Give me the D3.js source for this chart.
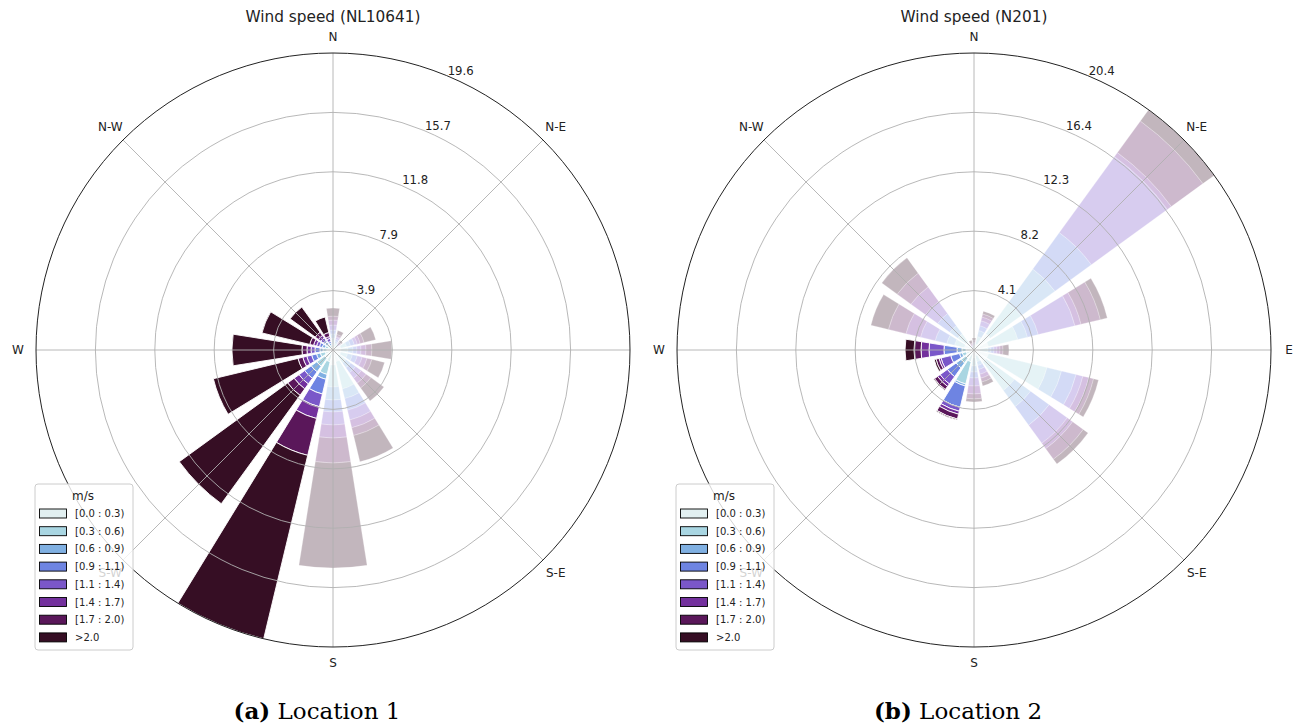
<!DOCTYPE html>
<html><head><meta charset="utf-8">
<script src="https://cdn.jsdelivr.net/npm/d3@7"></script>
<style>body{margin:0;background:#fff;} svg{display:block;}</style>
</head><body>
<svg id="chart" width="1298" height="728"></svg>
<script>
// ---------------- DATA ----------------
const directions = ["N","NNE","NE","ENE","E","ESE","SE","SSE","S","SSW","SW","WSW","W","WNW","NW","NNW"];
const compassLabels = ["N","N-E","E","S-E","S","S-W","W","N-W"];
const speedBins = ["[0.0 : 0.3)","[0.3 : 0.6)","[0.6 : 0.9)","[0.9 : 1.1)","[1.1 : 1.4)","[1.4 : 1.7)","[1.7 : 2.0)",">2.0"];
const legendTitle = "m/s";

// frequency (%) per direction (rows, N clockwise) and speed bin (columns)
const loc1Freq = [
  [0.40,0.39,0.27,0.26,0.33,0.33,0.26,0.53],
  [0.26,0.20,0.13,0.14,0.13,0.06,0.14,0.26],
  [0.20,0.13,0.07,0.06,0.07,0.06,0.07,0.13],
  [0.53,0.39,0.27,0.26,0.20,0.20,0.26,0.79],
  [0.53,0.46,0.33,0.26,0.27,0.33,0.39,1.32],
  [0.53,0.46,0.33,0.33,0.33,0.33,0.33,0.86],
  [0.53,0.53,0.39,0.40,0.46,0.40,0.39,1.06],
  [0.79,1.85,0.66,0.79,0.66,0.53,0.53,1.78],
  [0.99,1.45,0.86,0.79,0.86,0.86,1.65,6.93],
  [0.80,0.86,0.33,1.00,0.86,0.80,2.50,12.45],
  [0.66,0.66,0.46,0.53,0.46,0.40,0.53,8.84],
  [0.53,0.33,0.26,0.33,0.33,0.27,0.33,5.74],
  [0.40,0.26,0.20,0.33,0.26,0.27,0.33,4.62],
  [0.33,0.20,0.20,0.19,0.20,0.20,0.26,3.24],
  [0.26,0.20,0.20,0.13,0.20,0.20,0.26,2.05],
  [0.20,0.13,0.13,0.13,0.20,0.13,0.27,1.05]
];
const loc2Freq = [
  [0.14,0.14,0.06,0.07,0.07,0.07,0.14,0.14],
  [0.41,0.55,0.42,0.34,0.35,0.27,0.21,0.20],
  [1.38,2.61,2.90,3.10,6.47,0.34,2.69,0.96],
  [1.03,2.07,0.69,0.76,2.60,0.43,1.37,0.49],
  [0.41,0.55,0.21,0.21,0.20,0.21,0.21,0.41],
  [1.03,4.14,1.03,1.03,0.48,0.42,0.34,0.35],
  [1.03,2.41,1.38,1.58,1.54,0.46,0.90,0.41],
  [0.41,0.42,0.27,0.28,0.34,0.28,0.27,0.28],
  [0.55,0.55,0.42,0.41,0.55,0.55,0.34,0.21],
  [0.83,1.58,0.14,1.51,0.28,0.21,0.34,0.07],
  [0.69,0.41,0.42,0.75,0.62,0.21,0.27,0.07],
  [0.55,0.28,0.20,0.62,0.69,0.14,0.21,0.13],
  [0.55,0.28,0.34,0.90,1.03,0.55,0.48,0.62],
  [0.69,0.69,0.55,0.82,1.04,1.03,1.24,1.24],
  [0.69,0.69,0.69,1.03,1.03,1.24,1.17,1.31],
  [0.07,0.07,0.07,0.07,0.06,0.07,0.07,0.21]
];
// highlighted (fully opaque) directions
const loc1Highlight = [0,0,0,0,0,0,0,0,0,1,1,1,1,1,1,1];
const loc2Highlight = [0,0,0,0,0,0,0,0,0,1,1,1,1,0,0,0];
const loc1Max = 19.6;
const loc2Max = 20.45;
const loc1RTicks = ["3.9","7.9","11.8","15.7","19.6"];
const loc2RTicks = ["4.1","8.2","12.3","16.4","20.4"];
const titles = ["Wind speed (NL10641)", "Wind speed (N201)"];
const captionTags = ["(a)", "(b)"];
const captionTexts = ["Location 1", "Location 2"];

// ---------------- STYLE ----------------
const binColors = ["#e2f0f1","#a9d6e2","#80b0e2","#6e84e2","#7a57c9","#73309d","#5a175a","#360e24"];
const dimAlpha = 0.3;
const R = 297;
const toRad = Math.PI / 180;
const font = "DejaVu Sans, sans-serif";

const svg = d3.select("#chart");
svg.append("rect").attr("width",1298).attr("height",728).attr("fill","#fff");

function drawRose(cx, cy, freq, highlight, rmax, rticks, title, tag, capText, showE) {
  const g = svg.append("g").attr("transform", `translate(${cx},${cy})`);
  const r = d3.scaleLinear().domain([0, rmax]).range([0, R]);
  const step = 360 / directions.length;
  const half = step * 0.8 / 2;
  const arc = d3.arc();

  // bars
  directions.forEach((d, i) => {
    const alpha = highlight[i] ? 1 : dimAlpha;
    const cum = d3.cumsum(freq[i]);
    freq[i].forEach((v, j) => {
      const inner = j === 0 ? 0 : cum[j-1];
      g.append("path")
        .attr("d", arc({innerRadius: r(inner), outerRadius: r(cum[j]),
                        startAngle: (i*step - half)*toRad, endAngle: (i*step + half)*toRad}))
        .attr("fill", binColors[j]).attr("fill-opacity", alpha)
        .attr("stroke", "#fff").attr("stroke-opacity", alpha).attr("stroke-width", 0.9);
    });
  });

  // grid rings
  const ringVals = d3.range(1, 5).map(k => rmax * k / 5);
  g.selectAll(".ring").data(ringVals).enter().append("circle")
    .attr("r", v => r(v)).attr("fill","none").attr("stroke","#b0b0b0").attr("stroke-width",0.9);
  // radial lines
  compassLabels.forEach((lab, k) => {
    const a = k * 45 * toRad;
    g.append("line").attr("x1",0).attr("y1",0)
      .attr("x2", R*Math.sin(a)).attr("y2", -R*Math.cos(a))
      .attr("stroke","#b0b0b0").attr("stroke-width",0.9);
  });
  // outer circle
  g.append("circle").attr("r", R).attr("fill","none").attr("stroke","#222").attr("stroke-width",1);

  // compass labels
  compassLabels.forEach((lab, k) => {
    if (lab === "E" && !showE) return;
    const a = k * 45 * toRad;
    const off = (k % 2 === 1) ? 18 : (k % 4 === 0 ? 16 : 18);
    g.append("text").text(lab)
      .attr("x", (R+off)*Math.sin(a)).attr("y", -(R+off)*Math.cos(a))
      .attr("text-anchor","middle").attr("dominant-baseline","central")
      .attr("font-family", font).attr("font-size", 12).attr("fill","#222");
  });
  // radial tick labels
  rticks.forEach((t, k) => {
    const rv = r(rmax * (k+1) / 5);
    const a = 22.5 * toRad;
    g.append("text").text(t)
      .attr("x", rv*Math.sin(a) + 1).attr("y", -rv*Math.cos(a) - 1)
      .attr("font-family", font).attr("font-size", 11.7).attr("fill","#222");
  });
  // title
  g.append("text").text(title).attr("x",0).attr("y",-R-36)
    .attr("text-anchor","middle").attr("dominant-baseline","central")
    .attr("font-family", font).attr("font-size", 15.3).attr("fill","#222");

  // legend
  const lg = g.append("g").attr("transform", `translate(${-298},${134})`);
  lg.append("rect").attr("x",0).attr("y",0).attr("width",98).attr("height",166).attr("rx",3)
    .attr("fill","#fff").attr("fill-opacity",0.8).attr("stroke","#cccccc");
  lg.append("text").text(legendTitle).attr("x",48).attr("y",12)
    .attr("text-anchor","middle").attr("dominant-baseline","central")
    .attr("font-family", font).attr("font-size", 12).attr("fill","#222");
  speedBins.forEach((b, j) => {
    const yy = 29.5 + j * 17.7;
    lg.append("rect").attr("x",4.5).attr("y",yy-4.5).attr("width",27).attr("height",9)
      .attr("fill", binColors[j]).attr("stroke","#000").attr("stroke-width",0.9);
    lg.append("text").text(b).attr("x",40).attr("y",yy)
      .attr("dominant-baseline","central")
      .attr("font-family", font).attr("font-size", 10).attr("fill","#222");
  });

  // caption
  const cap = svg.append("text").attr("x", cx - 16).attr("y", 719)
    .attr("text-anchor","middle").attr("font-family","DejaVu Serif, serif")
    .attr("font-size", 23).attr("fill","#000");
  cap.append("tspan").attr("font-weight","bold").text(tag);
  cap.append("tspan").text(" " + capText);
}

drawRose(333, 350, loc1Freq, loc1Highlight, loc1Max, loc1RTicks, titles[0], captionTags[0], captionTexts[0], false);
drawRose(974, 350, loc2Freq, loc2Highlight, loc2Max, loc2RTicks, titles[1], captionTags[1], captionTexts[1], true);
</script>
</body></html>
